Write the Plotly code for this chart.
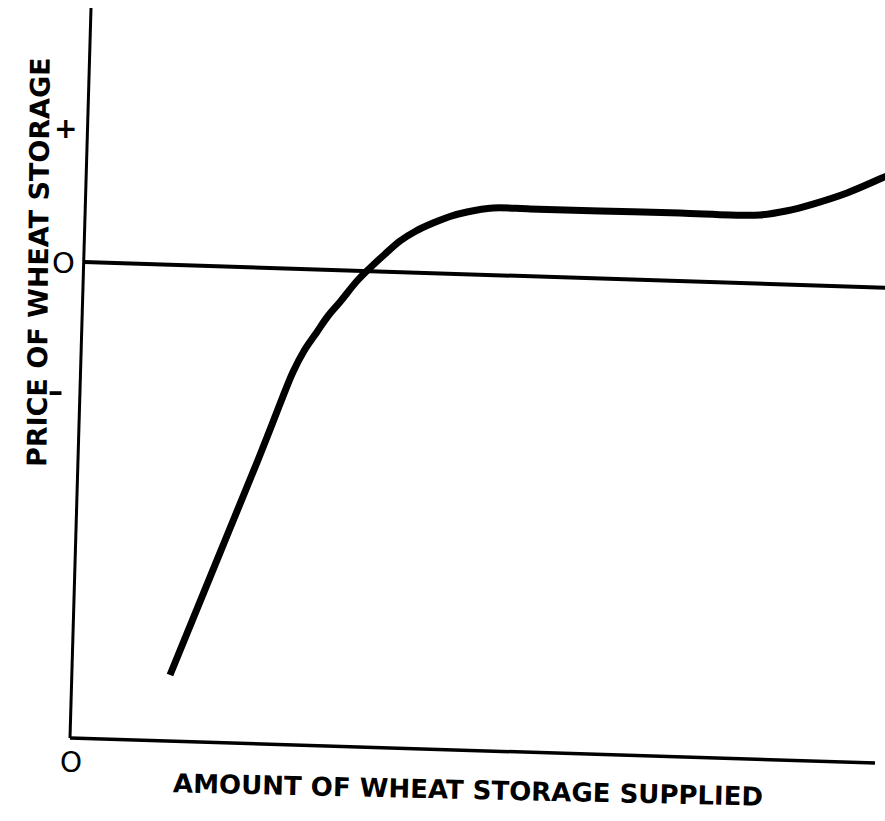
import plotly.graph_objects as go

# ---- data (quantity q, price p) ----
supply_q = [12.5, 18.375, 23.5, 25.375, 27.875, 29.25, 30.875, 32.25, 33.75, 35.875,
            37.5, 39.25, 41.25, 43.25, 45.375, 47.5, 49.625, 52.875, 57.5, 66.25,
            76.25, 82.5, 86.25, 89.5, 92.875, 97.125, 101.5, 103.75]
supply_p = [-3.129, -2.258, -1.5, -1.212, -0.833, -0.674, -0.530, -0.409, -0.303, -0.144,
            -0.045, 0.053, 0.159, 0.235, 0.295, 0.345, 0.379, 0.409, 0.402, 0.386,
            0.371, 0.356, 0.356, 0.386, 0.439, 0.523, 0.636, 0.697]

# axis lines as drawn (the scan is slightly tilted)
yaxis_line_q = [2.625, 0.0]
yaxis_line_p = [1.924, -3.606]
xaxis_line_q = [0.0, 100.625]
xaxis_line_p = [-3.606, -3.795]
zero_line_q = [1.75, 103.0]
zero_line_p = [0.0, -0.197]

tick_labels = ["+", "O", "–"]
tick_q = [-0.625, -0.875, -1.875]
tick_p = [1.015, -0.008, -0.975]

origin_label = "O"
x_title = "AMOUNT OF WHEAT STORAGE SUPPLIED"
y_title = "PRICE OF WHEAT STORAGE"

fig = go.Figure()
fig.add_trace(go.Scatter(x=yaxis_line_q, y=yaxis_line_p, mode="lines",
                         line=dict(color="black", width=3), hoverinfo="skip"))
fig.add_trace(go.Scatter(x=xaxis_line_q, y=xaxis_line_p, mode="lines",
                         line=dict(color="black", width=3.5), hoverinfo="skip"))
fig.add_trace(go.Scatter(x=zero_line_q, y=zero_line_p, mode="lines",
                         line=dict(color="black", width=4), hoverinfo="skip"))
fig.add_trace(go.Scatter(x=supply_q, y=supply_p, mode="lines",
                         line=dict(color="black", width=7, shape="spline", smoothing=1.0),
                         hoverinfo="skip"))

font_x = dict(family="DejaVu Sans", size=26, color="black", weight="bold")
font_y = dict(family="DejaVu Sans", size=27, color="black", weight="bold")
tick_fonts = [dict(family="DejaVu Sans", size=28, color="black", weight="bold"),
              dict(family="DejaVu Sans", size=29, color="black"),
              dict(family="DejaVu Sans", size=30, color="black", weight="bold")]

for t, q, p, f in zip(tick_labels, tick_q, tick_p, tick_fonts):
    fig.add_annotation(x=q, y=p, text=t, showarrow=False, font=f,
                       xanchor="center", yanchor="middle")

fig.add_annotation(x=0.125, y=-3.795, text=origin_label, showarrow=False,
                   font=dict(family="DejaVu Sans", size=28, color="black"),
                   xanchor="center", yanchor="middle")
fig.add_annotation(x=49.75, y=-4.0, text=x_title, showarrow=False, font=font_x,
                   xanchor="center", yanchor="middle", textangle=1.3)
fig.add_annotation(x=-4.0, y=0.0, text=y_title, showarrow=False, font=font_y,
                   xanchor="center", yanchor="middle", textangle=-89.5)

fig.update_layout(
    width=885, height=821,
    margin=dict(l=0, r=0, t=0, b=0),
    paper_bgcolor="white", plot_bgcolor="white",
    showlegend=False,
    xaxis=dict(range=[-8.75, 101.875], visible=False, fixedrange=True),
    yaxis=dict(range=[-4.2348, 1.9848], visible=False, fixedrange=True),
)

fig.write_html("out.html", config={"displayModeBar": False},
               post_script="document.body.style.margin='0';")
